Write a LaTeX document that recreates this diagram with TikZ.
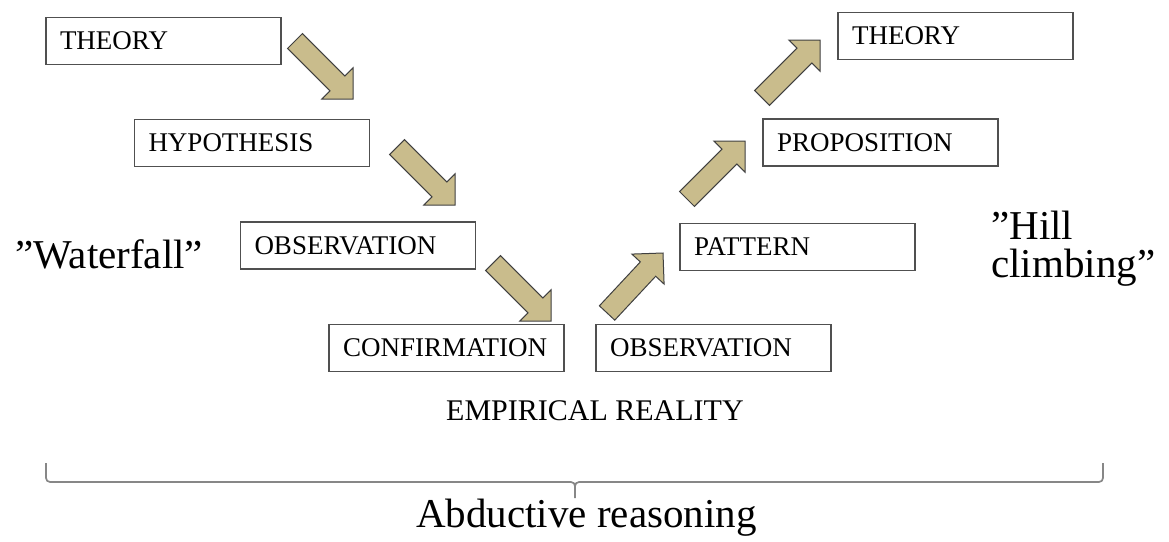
\documentclass[tikz,border=0pt]{standalone}
\usepackage{fontspec}
\setmainfont{Liberation Serif}
\definecolor{khaki}{RGB}{201,188,140}
\definecolor{boxline}{RGB}{80,80,80}
\definecolor{arrowline}{RGB}{64,64,64}
\definecolor{braceline}{RGB}{135,135,135}
\tikzset{
  stagebox/.style={draw=boxline, line width=1.7pt, fill=white, rectangle,
    minimum width=235pt, minimum height=47pt, text width=207pt, inner xsep=14pt,
    align=left, font=\fontsize{27}{30}\selectfont},
  blockarrow/.pic={\draw[fill=khaki, draw=arrowline, line width=1pt, line join=miter]
    (-82,-10.5) -- (-22,-10.5) -- (-22,-22) -- (0,0) -- (-22,22) -- (-22,10.5) -- (-82,10.5) -- cycle;},
  bigtext/.style={font=\fontsize{41}{38}\selectfont, inner sep=0pt},
  bracestyle/.style={draw=braceline, line width=1.7pt, line join=round}
}
\begin{document}
\begin{tikzpicture}[x=1pt,y=-1pt]
\useasboundingbox (0,0) rectangle (1169,541);
% arrows (drawn first)
\coordinate (a1) at (353,99);
\coordinate (a2) at (455,205);
\coordinate (a3) at (551,321);
\coordinate (a4) at (663,253);
\coordinate (a5) at (745,141);
\coordinate (a6) at (820,40);
\pic[rotate=-45] at (a1) {blockarrow};
\pic[rotate=-45] at (a2) {blockarrow};
\pic[rotate=-45] at (a3) {blockarrow};
\pic[rotate=47] at (a4) {blockarrow};
\pic[rotate=45] at (a5) {blockarrow};
\pic[rotate=45] at (a6) {blockarrow};
% boxes
\node[stagebox] (theory1) at (163.5,41) {THEORY};
\node[stagebox] (hyp) at (252,143) {HYPOTHESIS};
\node[stagebox] (obs1) at (358,245.5) {OBSERVATION};
\node[stagebox] (conf) at (446.5,348) {CONFIRMATION};
\node[stagebox] (obs2) at (713.5,348) {OBSERVATION};
\node[stagebox] (pat) at (797.5,247) {PATTERN};
\node[stagebox] (prop) at (880.5,142.5) {PROPOSITION};
\node[stagebox] (theory2) at (955.5,36) {THEORY};
% labels
\node[anchor=base west, inner sep=0pt, font=\fontsize{30}{32}\selectfont] (emp) at (446,420) {EMPIRICAL REALITY};
\node[bigtext, anchor=base west] (wf) at (15,268) {”Waterfall”};
\node[bigtext, anchor=base west] (hill1) at (991,239) {”Hill};
\node[bigtext, anchor=base west] (hill2) at (991,277) {climbing”};
\node[bigtext, anchor=base west] (abd) at (416,527) {Abductive reasoning};
% brace
\draw[bracestyle] (46,463) -- (46,478) to[out=-90,in=180] (50,482) -- (571,482) to[out=0,in=90] (575,486) -- (575,498);
\draw[bracestyle] (575,486) to[out=90,in=180] (579,482) -- (1099,482) to[out=0,in=-90] (1103,478) -- (1103,463);
\end{tikzpicture}
\end{document}
